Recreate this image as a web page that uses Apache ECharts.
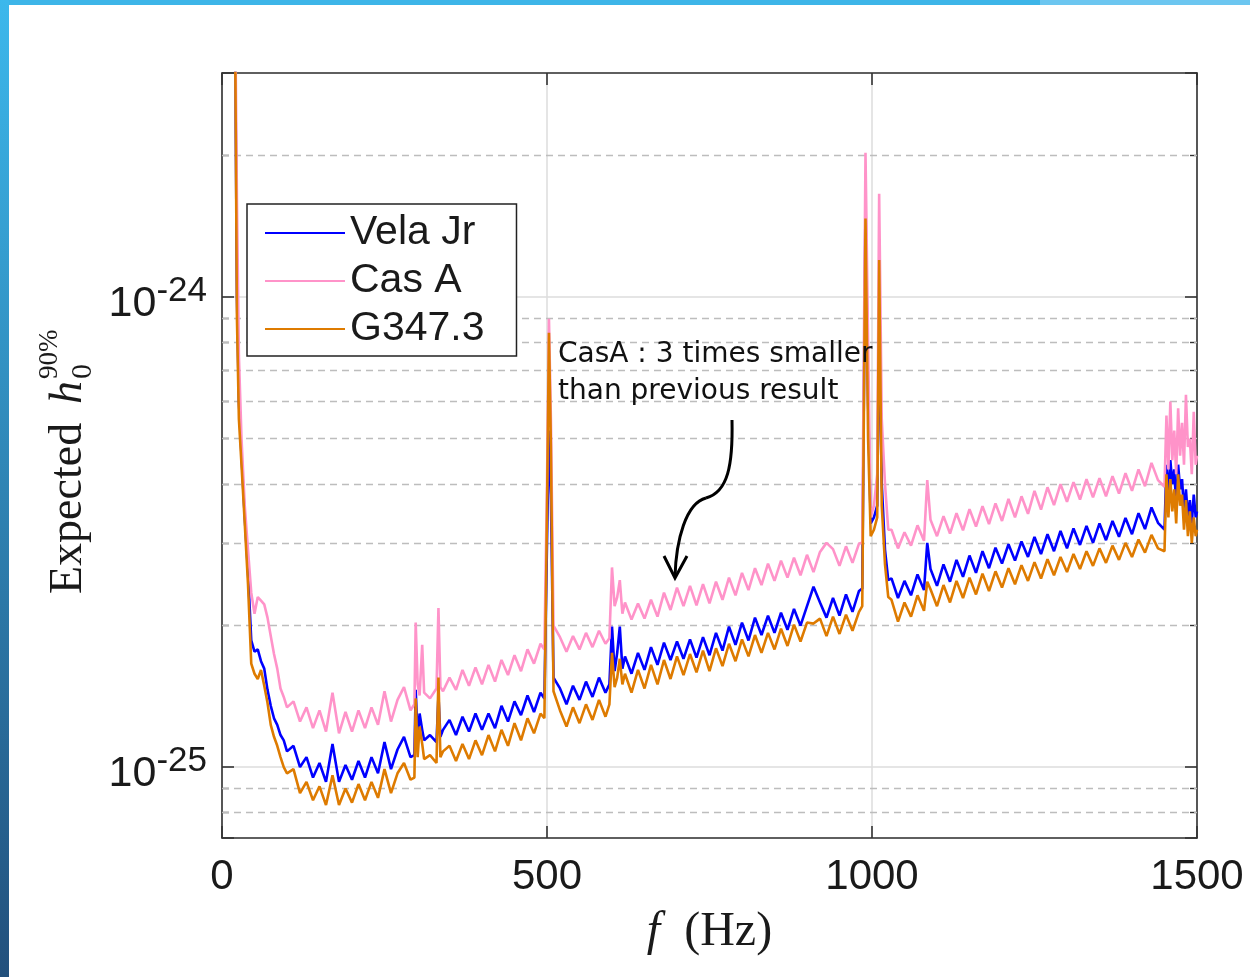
<!DOCTYPE html>
<html><head><meta charset="utf-8">
<script src="https://cdn.jsdelivr.net/npm/echarts@6/dist/echarts.min.js"></script>
<style>html,body{margin:0;padding:0;background:#fff}#c{width:1250px;height:977px}</style>
</head><body><div id="c"></div>
<script>
// Values are expected h0 (90%) in units of 1e-25.
const UNIT_EXP = -25;
const freq = [
  20, 23, 26, 30, 35, 40, 45, 50, 55, 60, 65, 70, 75, 80, 85, 90, 95, 100,
  110, 120, 130, 140, 150, 160, 170, 180, 190, 200, 210, 220, 230, 240, 250, 260, 270, 280, 290,
  296, 298, 301, 304, 308, 311, 320, 330, 333, 336, 340,
  350, 360, 370, 380, 390, 400, 410, 420, 430, 440, 450, 460, 470, 480, 490,
  496, 500, 503, 506, 510,
  520, 530, 540, 550, 560, 570, 580, 590,
  596, 600, 604, 608, 612, 616,
  620, 630, 640, 650, 660, 670, 680, 690, 700, 710, 720, 730, 740, 750, 760, 770, 780, 790, 800, 810, 820, 830, 840, 850, 860, 870, 880, 890, 900, 910, 920, 930, 940, 950, 960, 970, 980,
  985, 990, 994, 998, 1003, 1008, 1011, 1015, 1020, 1025,
  1030, 1040, 1050, 1060, 1070, 1080, 1085, 1090, 1100, 1110, 1120, 1130, 1140, 1150, 1160, 1170, 1180, 1190, 1200, 1210, 1220, 1230, 1240, 1250, 1260, 1270, 1280, 1290, 1300, 1310, 1320, 1330, 1340, 1350, 1360, 1370, 1380, 1390, 1400, 1410, 1420, 1430, 1440, 1450,
  1453, 1456, 1459, 1462, 1465, 1468, 1471, 1474, 1477, 1480, 1483, 1486, 1489, 1492, 1495, 1498, 1500
];
const velaJr = [
  40, 10, 6.0, 4.6, 3.4, 2.6, 1.86, 1.76, 1.78, 1.68, 1.62, 1.46, 1.35, 1.27, 1.23, 1.17, 1.14, 1.08,
  1.11, 1.00, 1.05, 0.95, 1.02, 0.93, 1.12, 0.93, 1.01, 0.94, 1.03, 0.95, 1.05, 0.97, 1.13, 0.99, 1.09, 1.16, 1.05,
  1.06, 1.46, 1.15, 1.30, 1.20, 1.14, 1.17, 1.13, 1.42, 1.16, 1.20,
  1.26, 1.17, 1.28, 1.19, 1.30, 1.20, 1.30, 1.21, 1.35, 1.25, 1.38, 1.29, 1.42, 1.31, 1.44,
  1.40, 3.0, 5.2, 3.8, 1.55,
  1.47, 1.36, 1.49, 1.39, 1.52, 1.41, 1.55, 1.44,
  1.50, 1.99, 1.60, 1.75, 1.99, 1.62,
  1.72, 1.58, 1.75, 1.61, 1.80, 1.65, 1.84, 1.69, 1.85, 1.70, 1.87, 1.71, 1.89, 1.73, 1.93, 1.77, 1.99, 1.82, 2.03, 1.86, 2.08, 1.91, 2.10, 1.93, 2.13, 1.96, 2.17, 2.00, 2.20, 2.42, 2.24, 2.08, 2.29, 2.10, 2.33, 2.14, 2.37,
  2.4, 16.0, 6.0, 3.3, 3.4, 3.6, 9.0, 4.0, 2.9, 2.5,
  2.52, 2.29, 2.49, 2.32, 2.57, 2.38, 3.00, 2.64, 2.43, 2.70, 2.48, 2.76, 2.54, 2.82, 2.59, 2.88, 2.65, 2.93, 2.71, 2.98, 2.75, 3.02, 2.80, 3.09, 2.84, 3.13, 2.88, 3.18, 2.92, 3.22, 2.97, 3.26, 3.00, 3.30, 3.04, 3.34, 3.09, 3.39, 3.13, 3.47, 3.21, 3.57, 3.31, 3.20,
  4.4, 3.8, 4.5, 4.0, 4.3, 3.6, 4.4, 3.9, 4.1, 3.5, 3.9, 3.4, 3.7, 3.3, 3.8, 3.4, 3.5
];
const casA = [
  45, 16, 7.5, 5.0, 3.6, 2.9, 2.35, 2.12, 2.30, 2.26, 2.22, 2.08, 1.90, 1.74, 1.62, 1.47, 1.41, 1.34,
  1.38, 1.25, 1.34, 1.21, 1.32, 1.19, 1.44, 1.18, 1.31, 1.19, 1.32, 1.21, 1.34, 1.23, 1.45, 1.25, 1.39, 1.48, 1.32,
  1.36, 2.03, 1.50, 1.42, 1.82, 1.44, 1.40, 1.47, 2.18, 1.48, 1.45,
  1.55, 1.46, 1.61, 1.49, 1.63, 1.50, 1.65, 1.52, 1.69, 1.57, 1.73, 1.60, 1.78, 1.66, 1.83,
  1.78, 4.0, 9.0, 5.5, 2.0,
  1.89, 1.76, 1.90, 1.78, 1.93, 1.80, 1.95, 1.83,
  1.88, 2.66, 2.20, 2.30, 2.50, 2.12,
  2.24, 2.06, 2.23, 2.07, 2.27, 2.09, 2.35, 2.16, 2.41, 2.20, 2.43, 2.21, 2.45, 2.23, 2.48, 2.27, 2.53, 2.32, 2.59, 2.38, 2.65, 2.44, 2.71, 2.49, 2.75, 2.53, 2.79, 2.56, 2.83, 2.60, 2.87, 3.00, 2.91, 2.68, 2.95, 2.72, 2.99,
  3.0, 20.3, 8.0, 3.4, 3.6, 4.2, 16.6, 5.5, 4.0, 3.2,
  3.20, 2.92, 3.16, 2.96, 3.27, 3.03, 4.08, 3.36, 3.10, 3.42, 3.14, 3.47, 3.19, 3.54, 3.25, 3.59, 3.29, 3.64, 3.34, 3.72, 3.40, 3.77, 3.46, 3.87, 3.53, 3.94, 3.61, 4.00, 3.67, 4.04, 3.71, 4.10, 3.75, 4.12, 3.77, 4.16, 3.82, 4.22, 3.87, 4.30, 3.96, 4.44, 4.08, 3.95,
  5.6, 4.3, 6.0, 4.5, 5.2, 4.2, 5.8, 4.6, 5.4, 4.4, 6.2, 4.8, 5.0, 4.2, 5.7, 4.4, 4.6
];
const g347 = [
  40, 9, 5.5, 4.4, 3.3, 2.45, 1.66, 1.58, 1.54, 1.61, 1.49, 1.37, 1.23, 1.16, 1.11, 1.05, 1.00, 0.97,
  0.99, 0.88, 0.93, 0.85, 0.91, 0.83, 0.96, 0.83, 0.90, 0.84, 0.92, 0.85, 0.93, 0.86, 0.99, 0.88, 0.97, 1.02, 0.94,
  0.95, 1.40, 1.05, 1.22, 1.12, 1.04, 1.06, 1.02, 1.55, 1.05, 1.08,
  1.11, 1.03, 1.12, 1.04, 1.14, 1.06, 1.17, 1.08, 1.20, 1.11, 1.24, 1.14, 1.27, 1.18, 1.30,
  1.27, 3.5, 8.4, 4.8, 1.45,
  1.32, 1.22, 1.34, 1.24, 1.36, 1.26, 1.39, 1.28,
  1.36, 1.75, 1.48, 1.55, 1.70, 1.50,
  1.58, 1.44, 1.61, 1.47, 1.65, 1.50, 1.69, 1.54, 1.72, 1.57, 1.74, 1.59, 1.77, 1.60, 1.79, 1.64, 1.83, 1.68, 1.87, 1.72, 1.91, 1.75, 1.93, 1.78, 1.97, 1.81, 2.01, 1.85, 2.03, 2.02, 2.07, 1.90, 2.09, 1.92, 2.11, 1.95, 2.14,
  2.2, 14.7, 5.0, 3.1, 3.2, 3.4, 12.0, 3.6, 2.7, 2.3,
  2.27, 2.04, 2.24, 2.09, 2.32, 2.15, 2.48, 2.39, 2.20, 2.44, 2.24, 2.49, 2.29, 2.53, 2.33, 2.58, 2.37, 2.61, 2.41, 2.65, 2.45, 2.69, 2.49, 2.73, 2.52, 2.77, 2.56, 2.80, 2.60, 2.84, 2.64, 2.88, 2.68, 2.92, 2.72, 2.96, 2.76, 3.00, 2.80, 3.05, 2.86, 3.12, 2.92, 2.88,
  4.2, 3.4, 4.1, 3.5, 3.9, 3.3, 4.2, 3.6, 3.8, 3.2, 3.7, 3.1, 3.5, 3.0, 3.4, 3.1, 3.2
];
const seriesNames = ['Vela Jr', 'Cas A', 'G347.3'];
const seriesColors = ['#0000ff', '#ff93c9', '#de7b00'];
const yMinValue = 0.7064, yMaxValue = 30.0;        // axis range (units of 1e-25)
const yMinorValues = [0.8, 0.9, 2, 3, 4, 5, 6, 7, 8, 9, 20];
const xTickInterval = 500;

[velaJr, casA, g347].forEach((a, i) => { if (a.length !== freq.length) throw new Error('length mismatch ' + i + ' ' + a.length + ' vs ' + freq.length); });

const chart = echarts.init(document.getElementById('c'), null, {renderer: 'canvas'});
const lg = Math.log10;
const axisColor = '#333';
const txt = '#1a1a1a';

function mkSeries(name, arr, color, z) {
  return {
    name, type: 'line', data: freq.map((f, i) => [f, arr[i]]),
    symbol: 'none', showSymbol: false, sampling: null, clip: true, z,
    lineStyle: {color, width: 2.6}, itemStyle: {color}, emphasis: {disabled: true}
  };
}

const option = {
  animation: false,
  backgroundColor: '#fff',
  grid: {left: 222, top: 73, right: 53, bottom: 139, containLabel: false},
  legend: {
    orient: 'vertical', left: 247, top: 204,
    data: seriesNames.map(n => ({name: n, icon: 'rect'})),
    itemWidth: 80, itemHeight: 2, itemGap: 6,
    padding: [8, 32, 6, 18],
    borderColor: '#222', borderWidth: 1.5, backgroundColor: '#fff',
    textStyle: {fontFamily: 'Liberation Sans', fontSize: 41, color: txt, lineHeight: 42},
    selectedMode: false
  },
  xAxis: [
    {
      type: 'value', min: 0, max: 1500, interval: xTickInterval, position: 'bottom',
      axisLine: {onZero: false, lineStyle: {color: axisColor, width: 1.6}},
      axisTick: {inside: true, length: 12, lineStyle: {color: axisColor, width: 1.6}},
      axisLabel: {fontFamily: 'Liberation Sans', fontSize: 42, color: txt, margin: 18, formatter: v => String(v)},
      splitLine: {show: true, lineStyle: {color: '#dcdcdc', width: 1.5}},
      name: '{i|f}{r|  (Hz)}', nameLocation: 'middle', nameGap: 70,
      nameTextStyle: {rich: {
        i: {fontFamily: 'Liberation Serif', fontStyle: 'italic', fontSize: 48, color: txt},
        r: {fontFamily: 'Liberation Serif', fontSize: 48, color: txt}
      }}
    },
    {
      type: 'value', min: 0, max: 1500, interval: xTickInterval, position: 'top',
      axisLine: {onZero: false, lineStyle: {color: axisColor, width: 1.6}},
      axisTick: {inside: true, length: 12, lineStyle: {color: axisColor, width: 1.6}},
      axisLabel: {show: false}, splitLine: {show: false}
    }
  ],
  yAxis: [
    {
      type: 'log', logBase: 10, min: yMinValue, max: yMaxValue, position: 'left',
      axisLine: {onZero: false, lineStyle: {color: axisColor, width: 1.6}},
      axisTick: {inside: true, length: 12, lineStyle: {color: axisColor, width: 1.6}},
      splitLine: {show: true, lineStyle: {color: '#dcdcdc', width: 1.5}},
      axisLabel: {
        margin: 15, padding: [14, 0, 0, 0],
        formatter: v => { const e = lg(v), r = Math.round(e); if (Math.abs(e - r) > 1e-6) return ''; return '{b|10}{s|' + (r + UNIT_EXP) + '}'; },
        rich: {
          b: {fontFamily: 'Liberation Sans', fontSize: 43, color: txt, lineHeight: 60},
          s: {fontFamily: 'Liberation Sans', fontSize: 35, color: txt, lineHeight: 20, verticalAlign: 'top'}
        }
      }
    },
    {
      type: 'log', logBase: 10, min: yMinValue, max: yMaxValue, position: 'right',
      axisLine: {onZero: false, lineStyle: {color: axisColor, width: 1.6}},
      axisTick: {inside: true, length: 12, lineStyle: {color: axisColor, width: 1.6}},
      axisLabel: {show: false}, splitLine: {show: false}
    },
    {
      type: 'value', min: lg(yMinValue), max: lg(yMaxValue), position: 'left',
      axisLine: {show: false, onZero: false},
      axisTick: {inside: true, length: 7, customValues: yMinorValues.map(lg), lineStyle: {color: axisColor, width: 1.4}},
      axisLabel: {show: false}, splitLine: {show: false}
    },
    {
      type: 'value', min: lg(yMinValue), max: lg(yMaxValue), position: 'right',
      axisLine: {show: false, onZero: false},
      axisTick: {inside: true, length: 7, customValues: yMinorValues.map(lg), lineStyle: {color: axisColor, width: 1.4}},
      axisLabel: {show: false}, splitLine: {show: false}
    }
  ],
  series: [
    {
      type: 'line', data: [], z: 1, silent: true,
      markLine: {
        silent: true, symbol: ['none', 'none'], z: 1, animation: false,
        label: {show: false},
        lineStyle: {type: [7, 5], color: '#bdbdbd', width: 1.3},
        emphasis: {disabled: true},
        data: yMinorValues.map(v => ({yAxis: v}))
      }
    },
    mkSeries(seriesNames[0], velaJr, seriesColors[0], 3),
    mkSeries(seriesNames[1], casA, seriesColors[1], 4),
    mkSeries(seriesNames[2], g347, seriesColors[2], 5)
  ],
  graphic: [
    {type: 'rect', shape: {x: 0, y: 0, width: 1040, height: 5}, style: {fill: '#3db5e8'}, z: 100},
    {type: 'rect', shape: {x: 1040, y: 0, width: 210, height: 5}, style: {fill: '#6cc6f0'}, z: 100},
    {type: 'rect', shape: {x: 0, y: 0, width: 9, height: 977}, z: 101,
      style: {fill: new echarts.graphic.LinearGradient(0, 0, 0, 1, [{offset: 0, color: '#3cb8ec'}, {offset: 1, color: '#22507c'}])}},
    {type: 'text', x: 558, y: 355, z: 50, style: {text: 'CasA : 3 times smaller', font: '28px "DejaVu Sans"', fill: '#111', textAlign: 'left', textVerticalAlign: 'middle'}},
    {type: 'text', x: 558, y: 392, z: 50, style: {text: 'than previous result', font: '28px "DejaVu Sans"', fill: '#111', textAlign: 'left', textVerticalAlign: 'middle'}},
    {type: 'bezierCurve', z: 50, shape: {x1: 732, y1: 420, cpx1: 733, cpy1: 465, cpx2: 728, cpy2: 492, x2: 706, y2: 498}, style: {stroke: '#000', lineWidth: 3, fill: null}},
    {type: 'bezierCurve', z: 50, shape: {x1: 706, y1: 498, cpx1: 686, cpy1: 503, cpx2: 676, cpy2: 540, x2: 675, y2: 577}, style: {stroke: '#000', lineWidth: 3, fill: null}},
    {type: 'polyline', z: 50, shape: {points: [[664, 556], [675, 578], [687, 556]]}, style: {stroke: '#000', lineWidth: 3, fill: null}},
    {type: 'group', x: 69, y: 594, rotation: Math.PI / 2, z: 50, children: [
      {type: 'text', x: 0, y: 0, style: {text: 'Expected', font: '46px "Liberation Serif"', fill: txt, textAlign: 'left', textVerticalAlign: 'middle'}},
      {type: 'text', x: 190, y: 0, style: {text: 'h', font: 'italic 46px "Liberation Serif"', fill: txt, textAlign: 'left', textVerticalAlign: 'middle'}},
      {type: 'text', x: 215, y: 14, style: {text: '0', font: '30px "Liberation Serif"', fill: txt, textAlign: 'left', textVerticalAlign: 'middle'}},
      {type: 'text', x: 215, y: -19, style: {text: '90%', font: '27px "Liberation Serif"', fill: txt, textAlign: 'left', textVerticalAlign: 'middle'}}
    ]}
  ]
};
chart.setOption(option);
</script></body></html>
